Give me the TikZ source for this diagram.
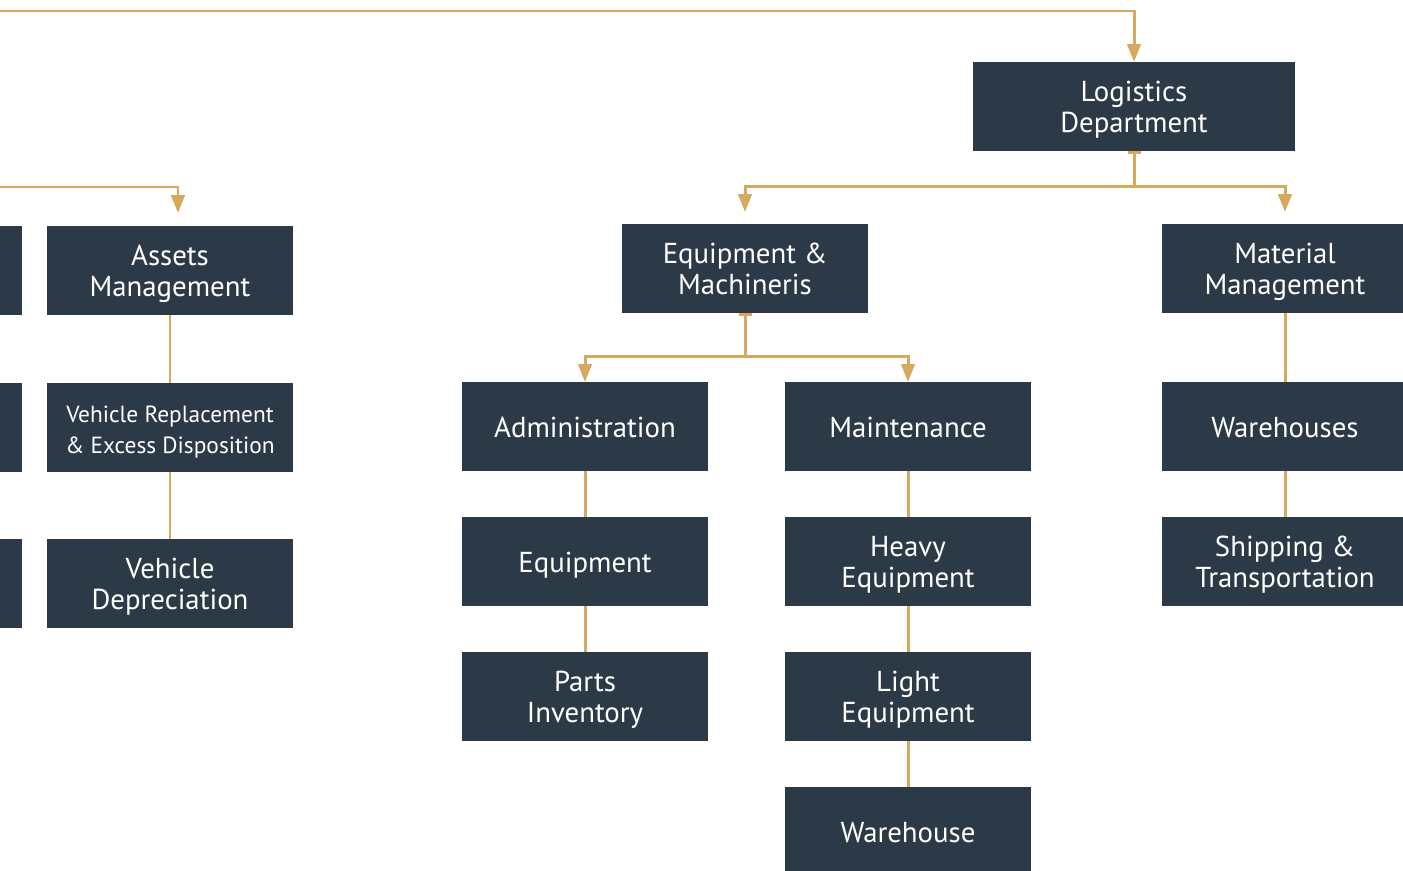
\documentclass[tikz,border=0pt]{standalone}
\usepackage{fontspec}
\setmainfont{PT Sans}
\usetikzlibrary{arrows.meta}
\usepackage{xcolor}
\definecolor{boxblue}{HTML}{2C3A48}
\definecolor{linkgold}{HTML}{D5AA5E}

\begin{document}
\begin{tikzpicture}[x=0.02cm, y=-0.02cm,
    unit/.style={rectangle, fill=boxblue, text=white, minimum width=4.92cm, minimum height=1.78cm, inner sep=0pt, outer sep=0pt, align=center, font=\fontsize{16.4}{17.6}\selectfont,
      execute at begin node={\rule{0pt}{16pt}}, execute at end node={\rule[-4pt]{0pt}{4pt}}},
    twoline/.style={unit, execute at begin node={\rule{0pt}{33.6pt}}},
    small/.style={font=\fontsize{13.3}{17.6}\selectfont},
    link/.style={draw=linkgold, line width=1.7pt},
    down/.style={link, -{Triangle[length=0.36cm, width=0.27cm]}},
    fork/.style={link, {Bar[width=0.26cm]}-{Triangle[length=0.36cm, width=0.27cm]}}]
    \path[use as bounding box, clip] (0,0) rectangle (1403,871);

    % top level
    \node[twoline, minimum width=6.44cm] (log) at (1134,106.5) {Logistics\\Department};
    \coordinate (topin) at (-10,11);
    \coordinate (leftin) at (-10,187);

    % left branch (cut off)
    \node[unit] (l1) at (-101,270.5) {};
    \node[unit] (l2) at (-101,427.5) {};
    \node[unit] (l3) at (-101,583.5) {};
    \node[twoline] (asset) at (170,270.5) {Assets\\Management};
    \node[twoline, small] (vrep) at (170,427.5) {Vehicle Replacement\\\& Excess Disposition};
    \node[twoline] (vdep) at (170,583.5) {Vehicle\\Depreciation};

    % logistics children
    \node[twoline] (eqm) at (745,268.5) {Equipment \&\\Machineris};
    \node[twoline] (mat) at (1285,268.5) {Material\\Management};
    \node[unit] (adm) at (585,426.5) {Administration};
    \node[unit] (mnt) at (908,426.5) {Maintenance};
    \node[unit] (equ) at (585,561.5) {Equipment};
    \node[twoline] (heavy) at (908,561.5) {Heavy\\Equipment};
    \node[twoline] (parts) at (585,696.5) {Parts\\Inventory};
    \node[twoline] (light) at (908,696.5) {Light\\Equipment};
    \node[unit] (whs) at (908,831.5) {Warehouse};
    \node[unit] (wh) at (1285,426.5) {Warehouses};
    \node[twoline] (ship) at (1285,561.5) {Shipping \&\\Transportation};

    \draw[down] (topin) -| (log.north);
    \draw[down, shorten >=0.26cm] (leftin) -| ([xshift=0.16cm]asset.north);
    \draw[fork, shorten >=0.24cm] (log.south) -- ++(0,36) -| (eqm.north);
    \draw[fork, shorten >=0.24cm] (log.south) -- ++(0,36) -| (mat.north);
    \draw[fork] (eqm.south) -- ++(0,44) -| (adm.north);
    \draw[fork] (eqm.south) -- ++(0,44) -| (mnt.north);

    \draw[link] (asset) -- (vrep);
    \draw[link] (vrep) -- (vdep);
    \draw[link] (adm) -- (equ);
    \draw[link] (equ) -- (parts);
    \draw[link] (mnt) -- (heavy);
    \draw[link] (heavy) -- (light);
    \draw[link] (light) -- (whs);
    \draw[link] (mat) -- (wh);
    \draw[link] (wh) -- (ship);
  \end{tikzpicture}
\end{document}
